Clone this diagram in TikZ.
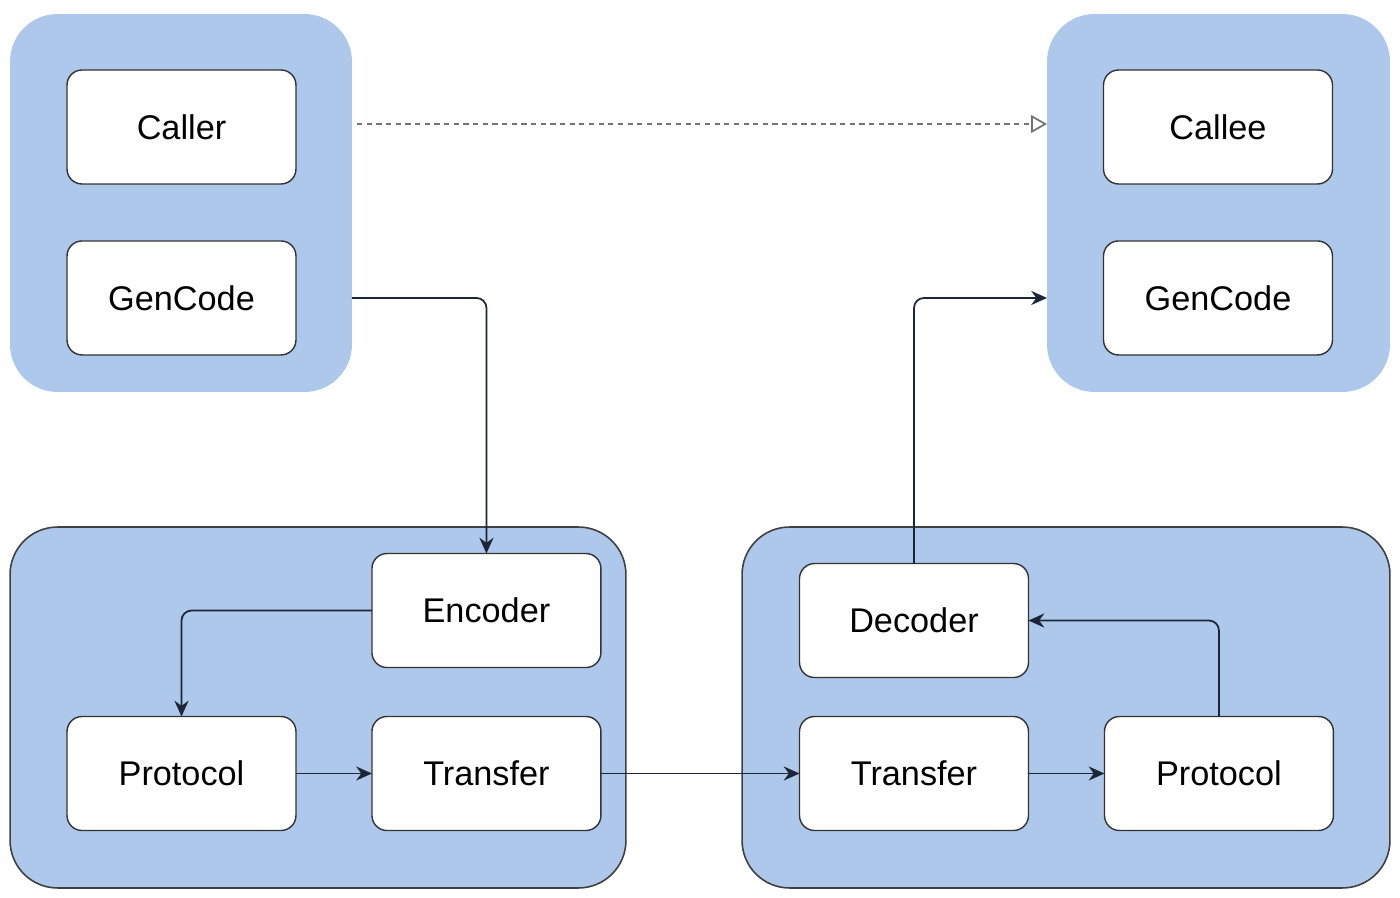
\documentclass[tikz,border=0pt]{standalone}
\usepackage{fontspec}
\setmainfont{Liberation Sans}
\usepackage{xcolor}
\usepackage{tikz}
\usetikzlibrary{arrows.meta, positioning}

\definecolor{panelblue}{HTML}{AEC8EC}
\definecolor{linedark}{HTML}{1C2636}

\tikzset{
  box/.style={draw=black!80, line width=0.8pt, fill=white, rounded corners=0.3cm,
    minimum width=4.58cm, minimum height=2.28cm, inner sep=0pt, outer sep=0pt,
    font=\fontsize{19.5}{22}\selectfont},
  panel/.style={fill=panelblue, rounded corners=0.95cm, inner sep=0pt, outer sep=0pt},
  framed/.style={panel, draw=black!75, line width=0.9pt},
  flow/.style={draw=linedark, line width=1pt, rounded corners=0.2cm,
    -{Stealth[length=9pt, width=8pt]}},
  hint/.style={draw=black!55, line width=1pt, dash pattern=on 3pt off 2.5pt,
    -{Triangle[open, length=9pt, width=10pt]}}
}

\begin{document}
\begin{tikzpicture}[x=0.02cm, y=-0.02cm]
        \useasboundingbox (0,0) rectangle (1400,898);

        % panels
        \node[panel, minimum width=6.84cm, minimum height=7.56cm] (callerbg) at (181,203) {};
        \node[panel, minimum width=6.86cm, minimum height=7.56cm] (calleebg) at (1218.5,203) {};
        \node[framed, minimum width=12.32cm, minimum height=7.22cm] (clientbg) at (318,707.5) {};
        \node[framed, minimum width=12.96cm, minimum height=7.22cm] (serverbg) at (1066,707.5) {};

        % caller side
        \node[box] (caller) at (181.5,127) {Caller};
        \node[box] (genl) [below=1.14cm of caller] {GenCode};

        % callee side
        \node[box] (callee) at (1218,127) {Callee};
        \node[box] (genr) [below=1.14cm of callee] {GenCode};

        % client stack
        \node[box] (protol) at (181.5,773.5) {Protocol};
        \node[box] (transl) [right=1.52cm of protol] {Transfer};
        \node[box] (encoder) [above=0.98cm of transl] {Encoder};

        % server stack
        \node[box] (transr) at (914,773.5) {Transfer};
        \node[box] (protor) [right=1.52cm of transr] {Protocol};
        \node[box] (decoder) [above=0.78cm of transr] {Decoder};

        \draw[hint] ([xshift=0.1cm, yshift=0.06cm]callerbg.east |- caller.center) -- ([yshift=0.06cm]calleebg.west |- callee.center);

        \draw[flow] (callerbg.east |- genl.center) -| (encoder.north);
        \draw[flow] (encoder.west) -| (protol.north);
        \draw[flow] (protol.east) -- (transl.west);
        \draw[flow] (transl.east) -- (transr.west);
        \draw[flow] (transr.east) -- (protor.west);
        \draw[flow] (protor.north) |- (decoder.east);
        \draw[flow] (decoder.north) |- (calleebg.west |- genr.center);
\end{tikzpicture}
\end{document}
